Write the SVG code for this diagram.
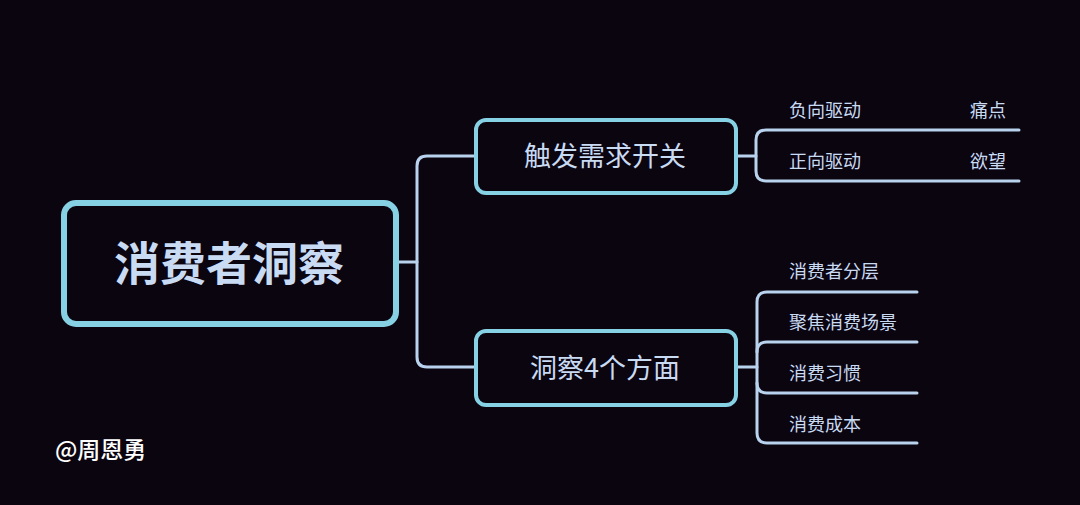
<svg xmlns="http://www.w3.org/2000/svg" width="1080" height="505" viewBox="0 0 1080 505">
<style>
.box{fill:#0b0510;stroke:#86d2e4}
.c{fill:none;stroke:#b9d3ee;stroke-width:3;stroke-linecap:round}
text{font-family:"Noto Sans CJK SC","Noto Sans",sans-serif;fill:#c9daf3}
.leaf{font-size:18px}
</style>
<rect width="1080" height="505" fill="#0b0510"/>
<g id="connectors">
<path class="c" d="M399 262 H417"/>
<path class="c" d="M474 156 H427 Q417 156 417 166 V357 Q417 367 427 367 H474"/>
<path class="c" d="M737 156 H756"/>
<path class="c" d="M1019 130 H766 Q756 130 756 140 V171 Q756 181 766 181 H1019"/>
<path class="c" d="M738 367 H757"/>
<path class="c" d="M917 292 H767 Q757 292 757 302 V433 Q757 443 767 443 H917"/>
<path class="c" d="M917 342 H767 Q757 342 757 352"/>
<path class="c" d="M917 393 H767 Q757 393 757 383"/>
</g>
<g id="root">
<rect class="box" x="64" y="203" width="332" height="121" rx="12" stroke-width="6"/>
<text x="229" y="280" font-size="46" font-weight="bold" text-anchor="middle">消费者洞察</text>
</g>
<g id="n1">
<rect class="box" x="476" y="120" width="260" height="73" rx="10" stroke-width="4"/>
<text x="605" y="166" font-size="27" text-anchor="middle">触发需求开关</text>
</g>
<g id="n2">
<rect class="box" x="476" y="331" width="260" height="74" rx="10" stroke-width="4"/>
<text x="605" y="378" font-size="27" text-anchor="middle">洞察4个方面</text>
</g>
<g id="l1"><text class="leaf" x="789" y="117">负向驱动</text><text class="leaf" x="970" y="117">痛点</text></g>
<g id="l2"><text class="leaf" x="789" y="168">正向驱动</text><text class="leaf" x="970" y="168">欲望</text></g>
<g id="l3"><text class="leaf" x="789" y="278">消费者分层</text></g>
<g id="l4"><text class="leaf" x="789" y="329">聚焦消费场景</text></g>
<g id="l5"><text class="leaf" x="789" y="380">消费习惯</text></g>
<g id="l6"><text class="leaf" x="789" y="431">消费成本</text></g>
<g id="watermark"><text x="55" y="458" font-size="23" font-weight="500" style="fill:#ffffff">@周恩勇</text></g>
</svg>
